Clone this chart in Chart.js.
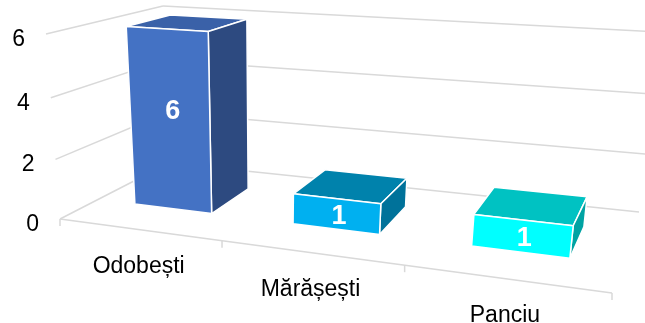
<!DOCTYPE html>
<html>
<head>
<meta charset="utf-8">
<script src="https://cdn.jsdelivr.net/npm/chart.js@4.4.1/dist/chart.umd.min.js"></script>
<style>
  html, body { margin: 0; padding: 0; background: #fff; }
  #wrap { width: 645px; height: 323px; }
</style>
</head>
<body>
<div id="wrap"><canvas id="chart"></canvas></div>
<script>
const categories = ["Odobești", "Mărășești", "Panciu"];
const counts = [6, 1, 1];
const yTicks = [0, 2, 4, 6];

// colours of each box: front face, top face, right side face
const frontColors = ["#4472C4", "#00B0F0", "#00FFFF"];
const topColors = ["#3A61A8", "#0082AC", "#00C2C2"];
const sideColors = ["#2D4A80", "#00729A", "#00A3A3"];

// where the corners of the 3D plot box land on screen
// f = front plane, b = back plane; first digit = along categories, second = along values
const corners = {
    f00: [60, 219], f10: [612, 293], f01: [46, 34], f11: [638, 72],
    b00: [169, 163], b10: [639, 212], b01: [163, 6], b11: [661, 32]
};
const barDepth = [0.35, 0.75]; // front and back of the boxes, 0 = front wall, 1 = back wall

function lerp(p, q, t) {
    return [p[0] + (q[0] - p[0]) * t, p[1] + (q[1] - p[1]) * t];
}
// simple perspective foreshortening along one axis
function warp(t, c) {
    return c * t / (1 + (c - 1) * t);
}
function project(u, f, z) {
    const a = warp(u, 0.831), b = warp(f, 0.95);
    const plane = (p00, p10, p01, p11) => lerp(lerp(p00, p10, a), lerp(p01, p11, a), b);
    const front = plane(corners.f00, corners.f10, corners.f01, corners.f11);
    const back = plane(corners.b00, corners.b10, corners.b01, corners.b11);
    return lerp(front, back, z);
}

function poly(ctx, pts, fill) {
    ctx.beginPath();
    ctx.moveTo(pts[0][0], pts[0][1]);
    for (let i = 1; i < pts.length; i++) ctx.lineTo(pts[i][0], pts[i][1]);
    ctx.closePath();
    ctx.fillStyle = fill;
    ctx.fill();
    ctx.stroke();
}
function line(ctx, p, q) {
    ctx.beginPath();
    ctx.moveTo(p[0], p[1]);
    ctx.lineTo(q[0], q[1]);
    ctx.stroke();
}

const box3d = {
    id: "box3d",
    beforeDatasetsDraw(chart) {
        const { ctx, chartArea: area, scales } = chart;
        const uOf = px => (px - area.left) / area.width;
        const fOf = py => (area.bottom - py) / area.height;

        ctx.save();
        // walls: side wall + back wall gridlines
        ctx.strokeStyle = "#D9D9D9";
        ctx.lineWidth = 1.5;
        yTicks.forEach(v => {
            const f = fOf(scales.y.getPixelForValue(v));
            line(ctx, project(0, f, 0), project(0, f, 1));
            line(ctx, project(0, f, 1), project(1, f, 1));
        });
        // front floor edge with category ticks
        line(ctx, project(0, 0, 0), project(1, 0, 0));
        for (let i = 0; i <= categories.length; i++) {
            const p = project(uOf(scales.x.getPixelForValue(i - 0.5)), 0, 0);
            line(ctx, p, [p[0], p[1] + 7]);
        }

        // value axis labels
        ctx.fillStyle = "#000";
        ctx.font = "23px 'Liberation Sans', Arial, sans-serif";
        ctx.textAlign = "right";
        ctx.textBaseline = "alphabetic";
        yTicks.forEach(v => {
            const p = project(0, fOf(scales.y.getPixelForValue(v)), 0);
            ctx.fillText(String(v), p[0] - 21, p[1] + 12);
        });
        // category labels
        ctx.font = "23px 'Liberation Sans', Arial, sans-serif";
        ctx.textAlign = "center";
        categories.forEach((c, i) => {
            const p = project(uOf(scales.x.getPixelForValue(i)), 0, 0);
            ctx.fillText(c, p[0], p[1] + 43);
        });

        // boxes
        const meta = chart.getDatasetMeta(0);
        const [z0, z1] = barDepth;
        ctx.strokeStyle = "#fff";
        ctx.lineWidth = 1.5;
        ctx.lineJoin = "round";
        meta.data.forEach((el, i) => {
            const u0 = uOf(el.x - el.width / 2), u1 = uOf(el.x + el.width / 2);
            const f0 = fOf(el.base), f1 = fOf(el.y);
            poly(ctx, [project(u0, f1, z0), project(u1, f1, z0), project(u1, f1, z1), project(u0, f1, z1)], topColors[i]);
            poly(ctx, [project(u1, f0, z0), project(u1, f1, z0), project(u1, f1, z1), project(u1, f0, z1)], sideColors[i]);
            poly(ctx, [project(u0, f0, z0), project(u1, f0, z0), project(u1, f1, z0), project(u0, f1, z0)], frontColors[i]);

            // label sits a bit above centre on tall boxes, a bit below on flat ones
            const lo = project((u0 + u1) / 2, f0, z0), hi = project((u0 + u1) / 2, f1, z0);
            const h = lo[1] - hi[1];
            ctx.fillStyle = "#fff";
            ctx.font = "bold 27px 'Liberation Sans', Arial, sans-serif";
            ctx.textAlign = "center";
            ctx.textBaseline = "middle";
            ctx.fillText(String(counts[i]), (lo[0] + hi[0]) / 2 + 3, (lo[1] + hi[1]) / 2 + 5 - 0.07 * h);
        });
        ctx.restore();
        return false;
    }
};

const ctx = document.getElementById("chart").getContext("2d");
new Chart(ctx, {
    type: "bar",
    data: {
        labels: categories,
        datasets: [{
            data: counts,
            backgroundColor: frontColors,
            categoryPercentage: 1,
            barPercentage: 0.5
        }]
    },
    options: {
        responsive: true,
        maintainAspectRatio: false,
        animation: false,
        layout: { padding: { left: 100, right: 100, top: 40, bottom: 60 } },
        scales: {
            x: { display: false },
            y: { display: false, min: 0, max: 6, ticks: { stepSize: 2 } }
        },
        plugins: {
            legend: { display: false },
            tooltip: { enabled: false }
        }
    },
    plugins: [box3d]
});
</script>
</body>
</html>
